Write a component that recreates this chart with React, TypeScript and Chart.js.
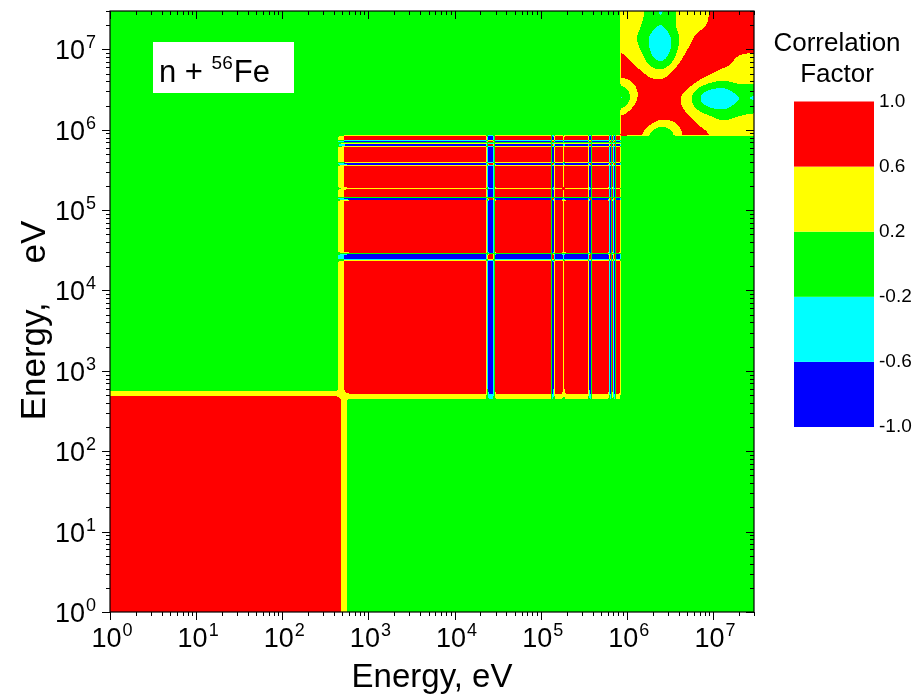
import React, { useEffect, useRef } from "react";
import { Chart, registerables } from "chart.js";

Chart.register(...registerables);

// ---------------- data ----------------
const E_MIN = 1;
const E_MAX = 3e7;

// contour levels (correlation factor) and fill colours
const LEVELS = [-1.0, -0.6, -0.2, 0.2, 0.6, 1.0];
const LEVEL_COLORS = ["#0000FF", "#00FFFF", "#00FF00", "#FFFF00", "#FF0000"];

// group A : 1 eV .. ~0.5 keV (log10 E of grid nodes), fully correlated block
const A_NODES = [0, 2.62];

// group B : ~0.6 keV .. 0.82 MeV (log10 E of grid nodes) and sign factor of each node
const B_NODES = [
  2.78, 4.36, 4.398, 4.442, 4.48, 5.116, 5.135, 5.145, 5.167, 5.248, 5.27, 5.292,
  5.551, 5.57, 5.58, 5.599, 5.786, 5.805, 5.815, 5.8325, 5.85, 5.86, 5.878, 5.915,
];
const B_SIGN = [
  1, 1, -1, -1, 1, 1, -1, -1, 1, 1, 0.45, 1,
  1, -1, -1, 1, 1, -1, -1, 1, -1, -1, 1, 1,
];

// group C : 0.86 MeV .. 30 MeV (log10 E of nodes) and correlation matrix
const C_NODES = [5.935, 6.13, 6.4, 6.67, 6.9, 7.1, 7.3, 7.48];
const C_CORR = [
  [1.0, 0.75, -0.21, 0.65, 0.65, 0.45, 0.45, 0.45],
  [0.75, 1.0, 0.62, 0.7, 0.4, 0.18, 0.26, 0.35],
  [-0.21, 0.62, 1.0, 0.5, -0.32, -0.52, -0.2, -0.21],
  [0.65, 0.7, 0.5, 1.0, 0.65, 0.4, 0.45, 0.45],
  [0.65, 0.4, -0.32, 0.65, 1.0, 0.8, 0.58, 0.55],
  [0.45, 0.18, -0.52, 0.4, 0.8, 1.0, 0.85, 0.75],
  [0.45, 0.26, -0.2, 0.45, 0.58, 0.85, 1.0, 0.9],
  [0.45, 0.35, -0.21, 0.45, 0.55, 0.75, 0.9, 1.0],
];

// axis ticks
const MAJOR_TICKS = [1, 10, 100, 1e3, 1e4, 1e5, 1e6, 1e7];
const MINOR_MULTS = [2, 3, 4, 5, 6, 7, 8, 9];

const X_TITLE = "Energy, eV";
const Y_TITLE = "Energy,    eV";
const BAR_TITLE = ["Correlation", "Factor"];
const LABEL_MAIN = "n + ";
const LABEL_SUP = "56";
const LABEL_END = "Fe";

// ---------------- derived grid ----------------
type GNode = { lg: number; region: number; idx: number };
const GRID: GNode[] = [
  ...A_NODES.map((lg, idx) => ({ lg, region: 0, idx })),
  ...B_NODES.map((lg, idx) => ({ lg, region: 1, idx })),
  ...C_NODES.map((lg, idx) => ({ lg, region: 2, idx })),
];
const GRID_LG = GRID.map((n) => n.lg);
const MATRIX: number[][] = GRID.map((ni) =>
  GRID.map((nj) => {
    if (ni.region !== nj.region) return 0;
    if (ni.region === 0) return 1;
    if (ni.region === 1) return ni.idx === nj.idx ? 1 : B_SIGN[ni.idx] * B_SIGN[nj.idx];
    return C_CORR[ni.idx][nj.idx];
  })
);

function locate(lg: number, arr: number[]) {
  const n = arr.length;
  if (lg <= arr[0]) return { i: 0, f: 0 };
  if (lg >= arr[n - 1]) return { i: n - 2, f: 1 };
  let i = 0;
  while (i < n - 2 && arr[i + 1] <= lg) i++;
  const f = (lg - arr[i]) / (arr[i + 1] - arr[i]);
  return { i, f };
}

function cIndex(lg: number) {
  const { i, f } = locate(lg, C_NODES);
  return i + f;
}

function crWeights(u: number) {
  const u2 = u * u;
  const u3 = u2 * u;
  return [
    -0.5 * u3 + u2 - 0.5 * u,
    1.5 * u3 - 2.5 * u2 + 1,
    -1.5 * u3 + 2 * u2 + 0.5 * u,
    0.5 * u3 - 0.5 * u2,
  ];
}

function hexToRgb(h: string) {
  return [parseInt(h.slice(1, 3), 16), parseInt(h.slice(3, 5), 16), parseInt(h.slice(5, 7), 16)];
}
const RGB = LEVEL_COLORS.map(hexToRgb);

function levelIndex(v: number) {
  let k = 0;
  for (let m = 1; m < LEVELS.length - 1; m++) if (v >= LEVELS[m]) k = m;
  return k;
}

const FONT = '"Liberation Sans", Arial, Helvetica, sans-serif';
const font = (s: number) => `${s}px ${FONT}`;

// ---------------- plugins ----------------
const heatmapPlugin = {
  id: "heatmap",
  beforeDatasetsDraw(chart: any) {
    const { ctx, chartArea: ca, scales } = chart;
    const xs = scales.x;
    const ys = scales.y;
    const x0 = Math.round(ca.left);
    const x1 = Math.round(ca.right);
    const y0 = Math.round(ca.top);
    const y1 = Math.round(ca.bottom);
    const w = x1 - x0;
    const h = y1 - y0;
    const img = ctx.createImageData(w, h);
    const cols = [];
    for (let p = 0; p < w; p++) {
      const lg = Math.log10(xs.getValueForPixel(x0 + p + 0.5));
      const loc = locate(lg, GRID_LG);
      const inC = lg >= C_NODES[0];
      const t = inC ? cIndex(lg) : 0;
      cols.push({ ...loc, inC, k: Math.floor(t), u: t - Math.floor(t) });
    }
    const rows = [];
    for (let p = 0; p < h; p++) {
      const lg = Math.log10(ys.getValueForPixel(y0 + p + 0.5));
      const loc = locate(lg, GRID_LG);
      const inC = lg >= C_NODES[0];
      const t = inC ? cIndex(lg) : 0;
      rows.push({ ...loc, inC, k: Math.floor(t), u: t - Math.floor(t) });
    }
    const nC = C_NODES.length;
    const cl = (q: number) => Math.max(0, Math.min(nC - 1, q));
    for (let r = 0; r < h; r++) {
      const R = rows[r];
      const wy = R.inC ? crWeights(R.u) : null;
      for (let c = 0; c < w; c++) {
        const Cc = cols[c];
        let v: number;
        if (R.inC && Cc.inC && wy) {
          const wx = crWeights(Cc.u);
          v = 0;
          for (let a = 0; a < 4; a++) {
            const ri = cl(R.k - 1 + a);
            let s = 0;
            for (let b = 0; b < 4; b++) s += wx[b] * C_CORR[ri][cl(Cc.k - 1 + b)];
            v += wy[a] * s;
          }
        } else {
          const m0 = MATRIX[R.i];
          const m1 = MATRIX[R.i + 1];
          const a = m0[Cc.i] * (1 - Cc.f) + m0[Cc.i + 1] * Cc.f;
          const b = m1[Cc.i] * (1 - Cc.f) + m1[Cc.i + 1] * Cc.f;
          v = a * (1 - R.f) + b * R.f;
        }
        const col = RGB[levelIndex(v)];
        const o = (r * w + c) * 4;
        img.data[o] = col[0];
        img.data[o + 1] = col[1];
        img.data[o + 2] = col[2];
        img.data[o + 3] = 255;
      }
    }
    ctx.putImageData(img, x0, y0);
  },
};

function drawPower(ctx: CanvasRenderingContext2D, x: number, baseline: number, exp: number, align: string) {
  ctx.font = font(27);
  const wb = ctx.measureText("10").width;
  ctx.font = font(18);
  const ws = ctx.measureText(String(exp)).width;
  const total = wb + 1 + ws;
  const left = align === "center" ? x - total / 2 + 2 : x - total;
  ctx.textAlign = "left";
  ctx.textBaseline = "alphabetic";
  ctx.font = font(27);
  ctx.fillText("10", left, baseline);
  ctx.font = font(18);
  ctx.fillText(String(exp), left + wb + 1, baseline - 11);
}

const framePlugin = {
  id: "frame",
  afterDraw(chart: any) {
    const { ctx, chartArea: ca, scales } = chart;
    const xs = scales.x;
    const ys = scales.y;
    ctx.save();
    ctx.strokeStyle = "#000";
    ctx.fillStyle = "#000";
    ctx.lineWidth = 1.2;
    ctx.strokeRect(ca.left, ca.top, ca.right - ca.left, ca.bottom - ca.top);

    const ticks: { v: number; major: boolean }[] = [];
    MAJOR_TICKS.forEach((m) => {
      ticks.push({ v: m, major: true });
      MINOR_MULTS.forEach((k) => {
        if (m * k <= E_MAX) ticks.push({ v: m * k, major: false });
      });
    });
    ctx.lineWidth = 1;
    ctx.beginPath();
    ticks.forEach(({ v, major }) => {
      const len = major ? 8 : 4;
      const px = Math.round(xs.getPixelForValue(v)) + 0.5;
      ctx.moveTo(px, ca.bottom);
      ctx.lineTo(px, ca.bottom + len);
      ctx.moveTo(px, ca.top);
      ctx.lineTo(px, ca.top + len);
      const py = Math.round(ys.getPixelForValue(v)) + 0.5;
      ctx.moveTo(ca.left, py);
      ctx.lineTo(ca.left - len, py);
      ctx.moveTo(ca.right, py);
      ctx.lineTo(ca.right - len, py);
    });
    ctx.stroke();

    MAJOR_TICKS.forEach((m) => {
      const exp = Math.round(Math.log10(m));
      drawPower(ctx, xs.getPixelForValue(m), ca.bottom + 35, exp, "center");
      drawPower(ctx, ca.left - 14, ys.getPixelForValue(m) + 10, exp, "right");
    });

    // axis titles
    ctx.textAlign = "center";
    ctx.textBaseline = "alphabetic";
    ctx.font = font(33);
    ctx.fillText(X_TITLE, (ca.left + ca.right) / 2, ca.bottom + 75);
    ctx.save();
    ctx.font = font(35);
    ctx.translate(45, (ca.top + ca.bottom) / 2 + 9);
    ctx.rotate(-Math.PI / 2);
    ctx.fillText(Y_TITLE, 0, 0);
    ctx.restore();

    // reaction label
    ctx.fillStyle = "#fff";
    ctx.fillRect(ca.left + 43, ca.top + 31, 141, 51);
    ctx.fillStyle = "#000";
    ctx.textAlign = "left";
    ctx.font = font(31);
    let lx = ca.left + 49;
    const base = ca.top + 71;
    ctx.fillText(LABEL_MAIN, lx, base);
    lx += ctx.measureText(LABEL_MAIN).width;
    ctx.font = font(19);
    ctx.fillText(LABEL_SUP, lx, base - 13);
    lx += ctx.measureText(LABEL_SUP).width + 1;
    ctx.font = font(31);
    ctx.fillText(LABEL_END, lx, base);

    // colour bar
    const barL = ca.right + 40;
    const barR = ca.right + 120;
    const barT = 101.5;
    const barB = 427;
    const lo = LEVELS[0];
    const hi = LEVELS[LEVELS.length - 1];
    const yOf = (v: number) => barB - ((v - lo) / (hi - lo)) * (barB - barT);
    for (let k = 0; k < LEVEL_COLORS.length; k++) {
      ctx.fillStyle = LEVEL_COLORS[k];
      const yt = yOf(LEVELS[k + 1]);
      const yb = yOf(LEVELS[k]);
      ctx.fillRect(barL, yt, barR - barL, yb - yt);
    }
    ctx.fillStyle = "#000";
    ctx.font = font(19);
    ctx.textBaseline = "middle";
    ctx.textAlign = "left";
    LEVELS.forEach((v) => ctx.fillText(v.toFixed(1), barR + 5, yOf(v)));
    ctx.textAlign = "center";
    ctx.textBaseline = "alphabetic";
    ctx.font = font(26);
    ctx.fillText(BAR_TITLE[0], (barL + barR) / 2 + 3, 51);
    ctx.fillText(BAR_TITLE[1], (barL + barR) / 2 + 3, 82);
    ctx.restore();
  },
};

export default function App() {
  const ref = useRef<HTMLCanvasElement | null>(null);
  useEffect(() => {
    if (!ref.current) return;
    const chart = new Chart(ref.current, {
      type: "scatter",
      data: { datasets: [{ data: [] }] },
      options: {
        animation: false,
        responsive: false,
        events: [],
        layout: { padding: { left: 110, top: 11, right: 163, bottom: 83 } },
        plugins: { legend: { display: false }, tooltip: { enabled: false } },
        scales: {
          x: { type: "logarithmic", min: E_MIN, max: E_MAX, display: false },
          y: { type: "logarithmic", min: E_MIN, max: E_MAX, display: false },
        },
      },
      plugins: [heatmapPlugin, framePlugin],
    } as any);
    return () => chart.destroy();
  }, []);
  return (
    <div style={{ position: "absolute", left: 0, top: 0, width: 917, height: 695, background: "#fff" }}>
      <canvas ref={ref} width={917} height={695} style={{ display: "block" }} />
    </div>
  );
}
